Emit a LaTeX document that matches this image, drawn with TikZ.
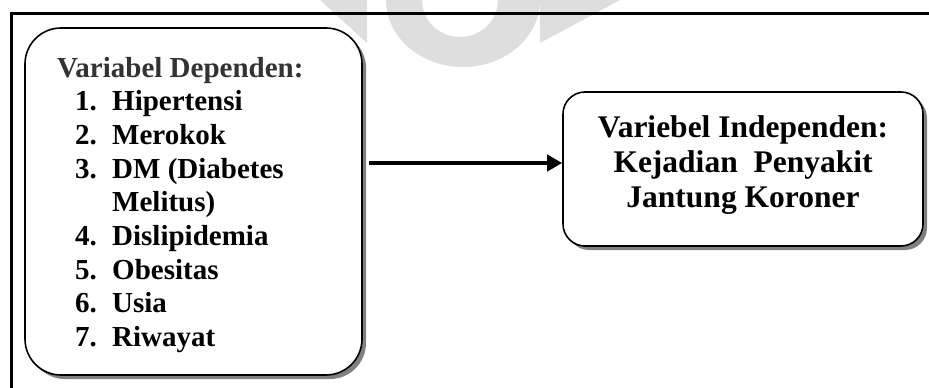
\documentclass[tikz,border=0pt]{standalone}
\usepackage{fontspec}
\setmainfont{Liberation Serif}
\usetikzlibrary{arrows.meta,shadows}
\begin{document}
\begin{tikzpicture}[x=1pt,y=-1pt,
  box/.style={draw=black, line width=1.6pt, fill=white, inner sep=0pt,
    drop shadow={shadow xshift=4pt, shadow yshift=-4pt, fill=black!50, opacity=1}},
  hdr/.style={anchor=base west, inner sep=0pt, text=black!80, font=\fontsize{29}{34}\selectfont\bfseries},
  lt/.style={anchor=base west, inner sep=0pt, font=\fontsize{29}{34}\selectfont\bfseries},
  rt/.style={anchor=base, inner sep=0pt, font=\fontsize{31.5}{35}\selectfont\bfseries},
  conn/.style={line width=4pt, -{Triangle[length=15pt,width=16pt]}},
  frameline/.style={line width=3pt},
  wm/.style={fill=black!13}]
\useasboundingbox (0,0) rectangle (929,388);
% faint watermark
\fill[wm] (320,0) -- (367,0) -- (367,43) -- cycle;
\fill[wm] (540,0) -- (620,0) -- (540,43) -- cycle;
\fill[wm, even odd rule] (386,0) arc[start angle=180, end angle=360, x radius=77pt, y radius=67pt] -- cycle
  (422,0) arc[start angle=180, end angle=360, x radius=38pt, y radius=37pt] -- cycle;
% frame
\draw[frameline] (929,13) -- (11.5,13) -- (11.5,388);
% boxes
\node[box, minimum width=337pt, minimum height=347pt, rounded corners=36pt] (dep) at (193.5,201.5) {};
\node[box, minimum width=360pt, minimum height=154pt, rounded corners=22pt] (indep) at (743,169) {};
% left text
\node[hdr] (h) at (57,77) {Variabel Dependen:};
\foreach \n/\yy/\t in {1/110.7/Hipertensi, 2/144.4/Merokok, 3/178.1/DM (Diabetes, 4/245.5/Dislipidemia, 5/279.2/Obesitas, 6/312.9/Usia, 7/346.6/Riwayat}{
  \node[lt] (n\n) at (75,\yy) {\n.};
  \node[lt] (t\n) at (112,\yy) {\t};
}
\node[lt] (t3b) at (112,211.8) {Melitus)};
% right text
\node[rt] (r1) at (743,137) {Variebel Independen:};
\node[rt] (r2) at (743,172) {Kejadian\ \ Penyakit};
\node[rt] (r3) at (743,207) {Jantung Koroner};
% connector
\coordinate (a0) at (369,163);
\draw[conn] (a0) -- (a0 -| indep.west);
\end{tikzpicture}
\end{document}
